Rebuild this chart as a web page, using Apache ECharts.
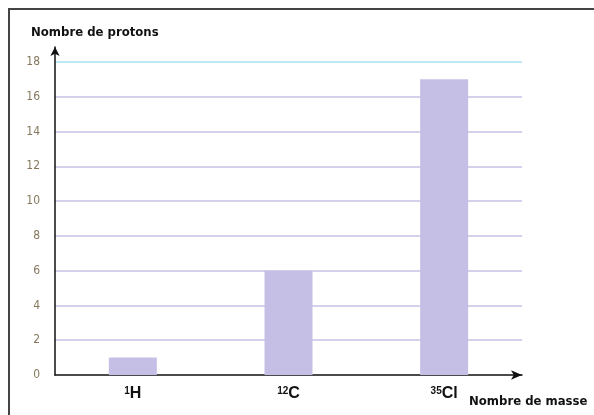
<!DOCTYPE html>
<html>
<head>
<meta charset="utf-8">
<script src="https://cdn.jsdelivr.net/npm/echarts@6/dist/echarts.min.js"></script>
<style>
  html, body { margin: 0; padding: 0; background: #fff; }
  #chart { width: 594px; height: 415px; }
</style>
</head>
<body>
<div id="chart"></div>
<script>
// Isotopes on the x axis, written as rich-text (mass number as superscript)
const massNumbers = ['1', '12', '35'];
const symbols = ['H', 'C', 'Cl'];
const protons = [1, 6, 17];

const categories = symbols.map((s, i) => massNumbers[i] + '|' + s);

const narrow = '"DejaVu Sans Condensed", "Roboto Condensed", "Liberation Sans Narrow", Roboto, sans-serif';
const lav = '#c9c1e6';
// one color per split line: 0 (hidden), 2..16, 18 (cyan), top end (hidden)
const splitColors = ['rgba(0,0,0,0)', lav, lav, lav, lav, lav, lav, lav, lav, '#a9e2ef', 'rgba(0,0,0,0)'];

const chart = echarts.init(document.getElementById('chart'));

chart.setOption({
  animation: false,
  textStyle: { fontFamily: narrow },
  title: [
    {
      text: 'Nombre de protons',
      left: 26, top: 21,
      textStyle: { fontSize: 13, fontWeight: 'bold', color: '#111', fontFamily: narrow }
    },
    {
      text: 'Nombre de masse',
      left: 464, top: 390,
      textStyle: { fontSize: 13, fontWeight: 'bold', color: '#111', fontFamily: narrow }
    }
  ],
  graphic: [
    {
      type: 'rect',
      shape: { x: 9, y: 9, width: 620, height: 440 },
      style: { fill: 'none', stroke: '#444', lineWidth: 2 },
      silent: true
    }
  ],
  grid: { left: 55, right: 72, top: 47, bottom: 40 },
  xAxis: {
    type: 'category',
    data: categories,
    offset: 3,
    axisTick: { show: false },
    axisLine: {
      lineStyle: { color: '#111', width: 1.5 },
      symbol: ['none', 'arrow'],
      symbolSize: [7, 11]
    },
    axisLabel: {
      margin: 8,
      formatter: function (v) {
        const p = v.split('|');
        return '{sup|' + p[0] + '}{b|' + p[1] + '}';
      },
      rich: {
        sup: { fontSize: 10, fontWeight: 'bold', color: '#111', fontFamily: 'Liberation Sans', verticalAlign: 'top', padding: [0, 0, 6, 0] },
        b: { fontSize: 16, fontWeight: 'bold', color: '#111', fontFamily: 'Liberation Sans' }
      }
    }
  },
  yAxis: {
    type: 'value',
    min: 0,
    max: 18.86,
    interval: 2,
    axisTick: { show: false },
    axisLine: {
      show: true,
      lineStyle: { color: '#111', width: 1.5 },
      symbol: ['none', 'arrow'],
      symbolSize: [7, 9]
    },
    axisLabel: {
      margin: 15,
      fontSize: 12,
      color: '#86775e',
      fontFamily: narrow,
      formatter: function (v) { return v % 2 === 0 ? String(v) : ''; }
    },
    splitLine: {
      show: true,
      lineStyle: { color: splitColors, width: 1.5 }
    }
  },
  series: [
    {
      type: 'bar',
      data: protons,
      barWidth: 48,
      itemStyle: { color: '#c6bfe5' }
    }
  ]
});
</script>
</body>
</html>
